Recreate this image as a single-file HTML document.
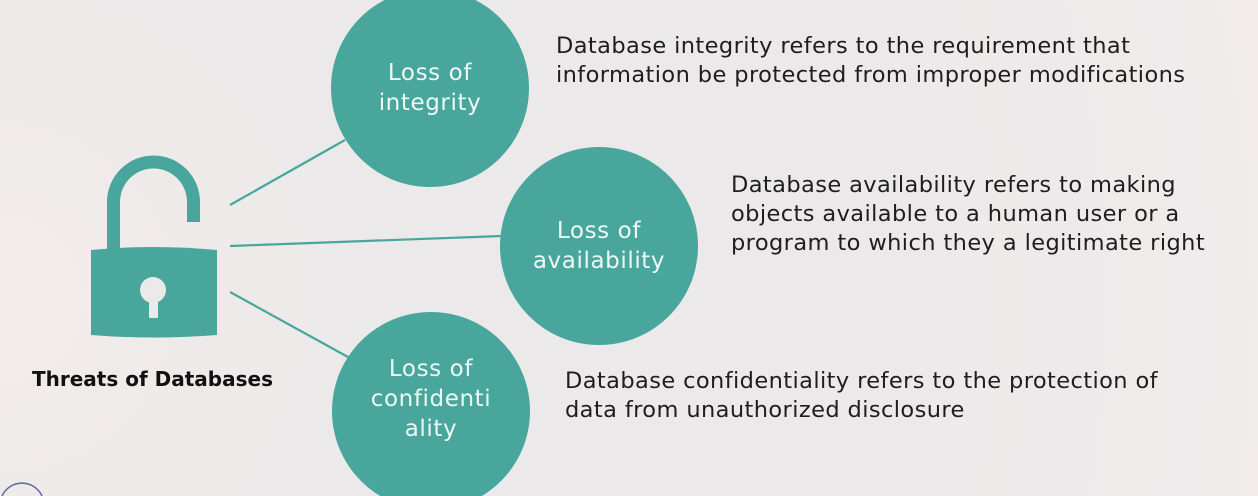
<!DOCTYPE html>
<html><head><style>
html,body{margin:0;padding:0;width:1258px;height:496px;overflow:hidden}
body{background:radial-gradient(circle at 0% 60%,#f3eceb 0,#ebe9ea 30%,#ebe9ea 70%,#f2ecec 100%);font-family:"DejaVu Sans","Liberation Sans",sans-serif}
#w{position:relative;width:1258px;height:496px;overflow:hidden}
.c{position:absolute;width:198px;color:#eef8f6;font-size:23px;letter-spacing:0.6px;line-height:30px;text-align:center}
.t{position:absolute;font-size:22.5px;letter-spacing:0.4px;line-height:29px;color:#1e1e1e;white-space:nowrap}
</style></head><body><div id="w">
<svg width="1258" height="496" style="position:absolute;left:0;top:0">
<g stroke="#48a69d" stroke-width="2.2">
<line x1="230" y1="205" x2="345" y2="140"/>
<line x1="230" y1="246" x2="502" y2="236"/>
<line x1="230" y1="292" x2="348" y2="357"/>
</g>
<g fill="#48a69d">
<circle cx="430" cy="88" r="99"/>
<circle cx="599" cy="246" r="99"/>
<circle cx="431" cy="411" r="99"/>
</g>
<path d="M107 250 V202 a46 46 0 0 1 93 0 V222 H187 V202 a33 33 0 0 0 -67 0 V250 Z" fill="#48a69d"/>
<path d="M91 250 Q153 244 217 250 V335 Q153 340 91 335 Z" fill="#48a69d"/>
<circle cx="153" cy="290" r="13" fill="#ebe9ea"/>
<rect x="149" y="296" width="9" height="22" fill="#ebe9ea"/>
<path d="M2 496 a22 22 0 0 1 40 0" fill="none" stroke="#5a6a9a" stroke-width="1.5"/>
</svg>
<div class="c" style="left:331px;top:58px">Loss of<br>integrity</div>
<div class="c" style="left:500px;top:216px">Loss of<br>availability</div>
<div class="c" style="left:332px;top:354px">Loss of<br>confidenti<br>ality</div>
<div class="t" style="left:556px;top:32px">Database integrity refers to the requirement that<br>information be protected from improper modifications</div>
<div class="t" style="left:731px;top:171px">Database availability refers to making<br>objects available to a human user or a<br>program to which they a legitimate right</div>
<div class="t" style="left:565px;top:367px">Database confidentiality refers to the protection of<br>data from unauthorized disclosure</div>
<div style="position:absolute;left:32px;top:367px;font-size:20px;font-weight:bold;color:#111;white-space:nowrap">Threats of Databases</div>
</div></body></html>
